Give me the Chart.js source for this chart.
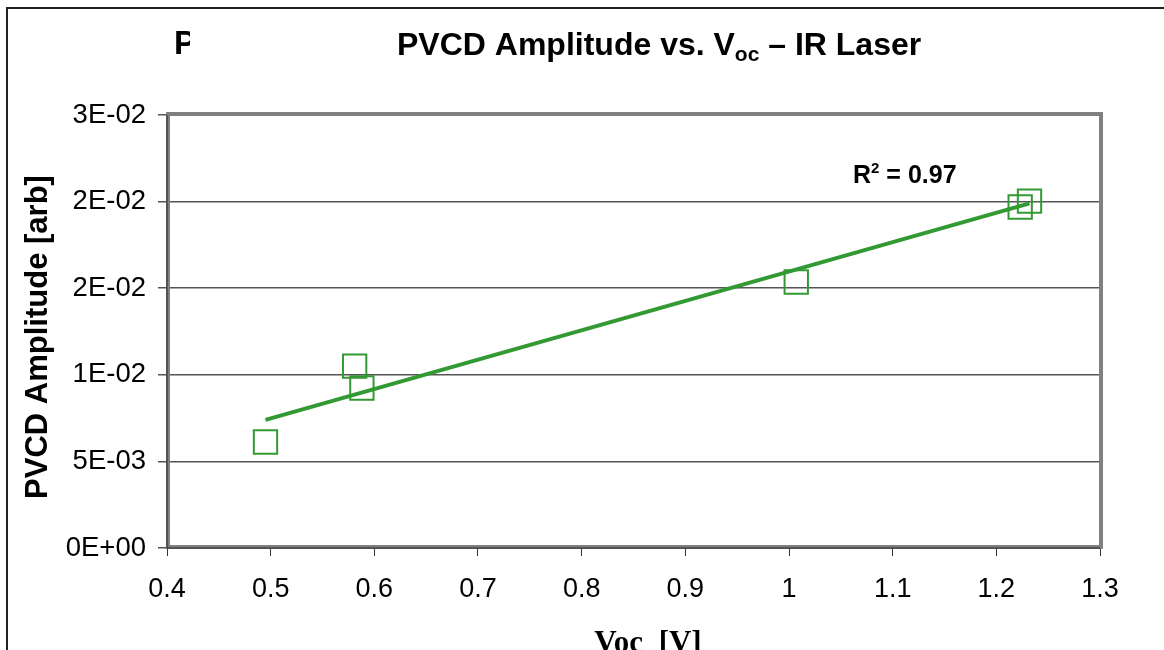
<!DOCTYPE html>
<html>
<head>
<meta charset="utf-8">
<script src="https://cdn.jsdelivr.net/npm/chart.js@4/dist/chart.umd.min.js"></script>
<style>
body { margin: 0; background: #fff; }
canvas { display: block; }
</style>
</head>
<body>
<canvas id="scatter-chart" width="1164" height="650"></canvas>
<script>
// values
var vocValues = [0.495, 0.581, 0.588, 1.007, 1.223, 1.232];
var amplitudeValues = [0.00612, 0.0105, 0.00924, 0.01536, 0.01969, 0.02003];
var trendX = [0.495, 1.232];
var trendY = [0.0074, 0.0199];
var xTickLabels = ["0.4", "0.5", "0.6", "0.7", "0.8", "0.9", "1", "1.1", "1.2", "1.3"];
var yTickLabels = ["0E+00", "5E-03", "1E-02", "2E-02", "2E-02", "3E-02"];

var green = "#339933";
var sans = "'Liberation Sans', Arial, sans-serif";

function toPoints(X, Y) {
	var p = [];
	for (var i = 0; i < X.length; i++) {
		p.push({x: X[i], y: Y[i]});
	}
	return p;
}

var textPlugin = {
	id: "texts",
	beforeDraw: function(chart) {
		var ctx = chart.ctx;
		ctx.save();
		ctx.fillStyle = "#fff";
		ctx.fillRect(0, 0, chart.width, chart.height);
		// outer frame (top and left only visible)
		ctx.strokeStyle = "#222";
		ctx.lineWidth = 2;
		ctx.beginPath();
		ctx.moveTo(chart.width, 8);
		ctx.lineTo(7, 8);
		ctx.lineTo(7, chart.height);
		ctx.stroke();
		ctx.restore();
	},
	beforeDatasetsDraw: function(chart) {
		var a = chart.chartArea;
		var ctx = chart.ctx;
		ctx.save();
		ctx.strokeStyle = "#808080";
		ctx.lineWidth = 4;
		ctx.strokeRect(a.left + 1, a.top - 1, a.right - a.left, a.bottom - a.top);
		ctx.strokeStyle = "#444";
		ctx.lineWidth = 1.5;
		ctx.beginPath();
		ctx.moveTo(a.left, a.top);
		ctx.lineTo(a.left, a.bottom);
		ctx.lineTo(a.right, a.bottom);
		ctx.stroke();
		ctx.restore();
	},
	afterDraw: function(chart) {
		var ctx = chart.ctx;
		ctx.save();
		ctx.fillStyle = "#000";
		ctx.textBaseline = "alphabetic";
		ctx.textAlign = "left";

		// stray letter left of the title, cut on its right side
		ctx.save();
		ctx.beginPath();
		ctx.rect(150, 20, 40, 50);
		ctx.clip();
		ctx.font = "bold 33px " + sans;
		ctx.fillText("P", 174, 54);
		ctx.restore();

		// title with subscript
		var x = 397, base = 55;
		ctx.font = "bold 32px " + sans;
		ctx.fillText("PVCD Amplitude vs. V", x, base);
		x += ctx.measureText("PVCD Amplitude vs. V").width;
		ctx.font = "bold 21px " + sans;
		ctx.fillText("oc", x, base + 6);
		x += ctx.measureText("oc").width;
		ctx.font = "bold 32px " + sans;
		ctx.fillText(" \u2013 IR Laser", x, base);

		// R squared
		x = 853; base = 183;
		ctx.font = "bold 25px " + sans;
		ctx.fillText("R", x, base);
		x += ctx.measureText("R").width;
		ctx.font = "bold 15px " + sans;
		ctx.fillText("2", x, base - 10);
		x += ctx.measureText("2").width;
		ctx.font = "bold 25px " + sans;
		ctx.fillText(" = 0.97", x, base);

		// y axis title
		ctx.save();
		ctx.translate(47, 337);
		ctx.rotate(-Math.PI / 2);
		ctx.textAlign = "center";
		ctx.font = "bold 31px " + sans;
		ctx.fillText("PVCD Amplitude [arb]", 0, 0);
		ctx.restore();

		// x axis title
		ctx.textAlign = "center";
		ctx.font = "bold 31px 'Liberation Serif', 'Times New Roman', serif";
		ctx.fillText("Voc  [V]", 648, 652);
		ctx.restore();
	}
};

new Chart(document.getElementById("scatter-chart"), {
	type: "scatter",
	data: {
		datasets: [
			{
				label: "Trend",
				type: "line",
				data: toPoints(trendX, trendY),
				borderColor: green,
				borderWidth: 4,
				pointRadius: 0,
				fill: false
			},
			{
				label: "PVCD",
				data: toPoints(vocValues, amplitudeValues),
				pointStyle: "rect",
				pointRadius: 16.5,
				pointBorderWidth: 2,
				pointBorderColor: green,
				pointBackgroundColor: "rgba(0,0,0,0)",
				borderColor: green,
				backgroundColor: "rgba(0,0,0,0)"
			}
		]
	},
	plugins: [textPlugin],
	options: {
		responsive: false,
		animation: false,
		layout: { padding: { top: 115, right: 64, left: 0, bottom: 0 } },
		plugins: {
			legend: { display: false },
			tooltip: { enabled: false },
			title: { display: false }
		},
		scales: {
			x: {
				type: "linear",
				min: 0.4,
				max: 1.3,
				afterFit: function(scale) { scale.height = 102; },
				ticks: {
					stepSize: 0.1,
					color: "#000",
					padding: 17,
					font: { family: sans, size: 27 },
					callback: function(v, i) { return xTickLabels[i]; }
				},
				grid: {
					drawOnChartArea: false,
					tickLength: 8,
					color: "#333",
					lineWidth: 1
				},
				border: { display: false }
			},
			y: {
				min: 0,
				max: 0.025,
				afterFit: function(scale) { scale.width = 167; },
				ticks: {
					stepSize: 0.005,
					color: "#000",
					padding: 12,
					font: { family: sans, size: 27.5 },
					callback: function(v, i) { return yTickLabels[i]; }
				},
				grid: {
					tickLength: 9,
					color: "#555",
					lineWidth: 1.5
				},
				border: { display: false }
			}
		}
	}
});
</script>
</body>
</html>
